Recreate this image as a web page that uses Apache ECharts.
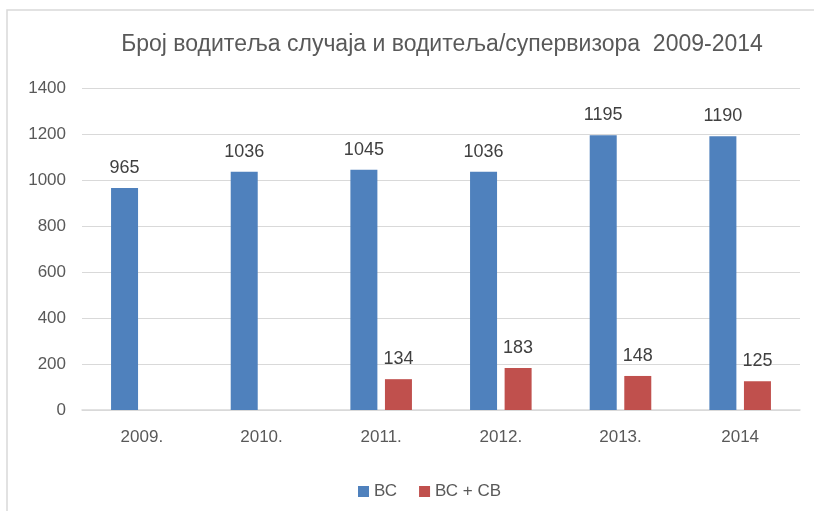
<!DOCTYPE html>
<html>
<head>
<meta charset="utf-8">
<script src="https://cdn.jsdelivr.net/npm/echarts@6/dist/echarts.min.js"></script>
<style>
  html, body { margin: 0; padding: 0; background: #fff; }
  #chart { width: 814px; height: 511px; }
</style>
</head>
<body>
<div id="chart"></div>
<script>
var titleText = 'Број водитеља случаја и водитеља/супервизора  2009-2014';
var years = ['2009.', '2010.', '2011.', '2012.', '2013.', '2014'];
var vsValues = [965, 1036, 1045, 1036, 1195, 1190];
var vsSvValues = [null, null, 134, 183, 148, 125];
var seriesNames = ['ВС', 'ВС + СВ'];

var font = '"Liberation Sans", Arial, sans-serif';
var chart = echarts.init(document.getElementById('chart'));

chart.setOption({
	animation: false,
	textStyle: { fontFamily: font },
	graphic: [{
		type: 'rect',
		shape: { x: 7, y: 10, width: 900, height: 600 },
		style: { fill: 'none', stroke: '#d9d9d9', lineWidth: 1.5 },
		silent: true
	}],
	title: {
		text: titleText,
		left: 437,
		textAlign: 'center',
		top: 28,
		textStyle: { fontSize: 23, fontWeight: 'normal', color: '#595959', fontFamily: font }
	},
	legend: {
		data: seriesNames,
		left: 353,
		top: 478,
		itemWidth: 11,
		itemHeight: 11,
		itemGap: 22,
		icon: 'rect',
		textStyle: { fontSize: 17, color: '#595959', fontFamily: font }
	},
	grid: { left: 82, right: 14, top: 88, bottom: 101, containLabel: false },
	xAxis: {
		type: 'category',
		data: years,
		axisLine: { lineStyle: { color: '#d9d9d9', width: 1.5 } },
		axisTick: { show: false },
		axisLabel: { fontSize: 17, color: '#595959', margin: 19 }
	},
	yAxis: {
		type: 'value',
		min: 0,
		max: 1400,
		interval: 200,
		axisLine: { show: false },
		axisTick: { show: false },
		splitLine: { lineStyle: { color: '#d9d9d9', width: 1.2 } },
		axisLabel: { fontSize: 17, color: '#595959', margin: 16, formatter: function (v) { return String(v); } }
	},
	series: [{
		name: seriesNames[0],
		type: 'bar',
		data: vsValues,
		barWidth: 27,
		barGap: '28%',
		itemStyle: { color: '#4f81bd' },
		label: { show: true, position: 'top', distance: 11, fontSize: 18, color: '#404040' }
	}, {
		name: seriesNames[1],
		type: 'bar',
		data: vsSvValues,
		barWidth: 27,
		itemStyle: { color: '#c0504d' },
		label: { show: true, position: 'top', distance: 11, fontSize: 18, color: '#404040' }
	}]
});
</script>
</body>
</html>
